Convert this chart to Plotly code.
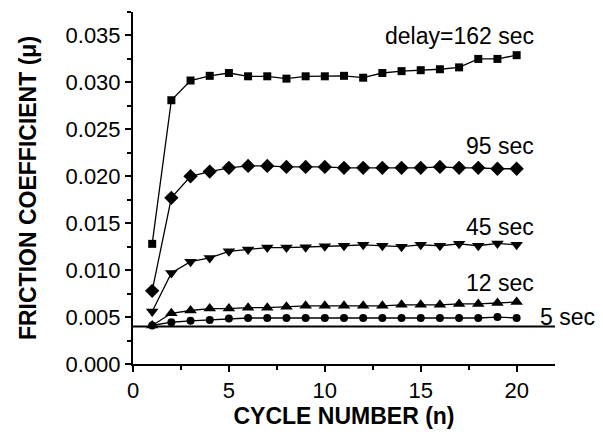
import plotly.graph_objects as go

cycles = list(range(1, 21))
mu_162 = [0.0128, 0.0281, 0.0302, 0.0307, 0.0310, 0.03065, 0.03065, 0.0304, 0.03065, 0.03065,
          0.0307, 0.0305, 0.0310, 0.0312, 0.0313, 0.0314, 0.0316, 0.0325, 0.0325, 0.0329]
mu_95 = [0.0078, 0.0177, 0.0200, 0.0205, 0.0209, 0.0211, 0.0211, 0.0210, 0.0210, 0.0210,
         0.0209, 0.0209, 0.0209, 0.0209, 0.0209, 0.0210, 0.0209, 0.0209, 0.0208, 0.0208]
mu_45 = [0.0056, 0.0097, 0.0109, 0.0113, 0.0120, 0.0122, 0.0124, 0.0124, 0.01245, 0.01255,
         0.0126, 0.0127, 0.0126, 0.0125, 0.0127, 0.0126, 0.0128, 0.0126, 0.01285, 0.0127]
mu_12 = [0.0041, 0.0054, 0.0057, 0.0059, 0.0059, 0.0060, 0.0060, 0.0061, 0.0062, 0.0062,
         0.0062, 0.0062, 0.0062, 0.0063, 0.0063, 0.0063, 0.0064, 0.0064, 0.0065, 0.0066]
mu_5 = [0.0041, 0.00445, 0.0046, 0.0047, 0.00485, 0.0049, 0.0049, 0.0049, 0.0049, 0.0049,
        0.0049, 0.0049, 0.0049, 0.0049, 0.0049, 0.0049, 0.0049, 0.0049, 0.0050, 0.0049]
baseline_x = [0, 22]
baseline_y = [0.004, 0.004]

labels = ["delay=162 sec", "95 sec", "45 sec", "12 sec", "5 sec"]
label_x = [21.0, 21.0, 21.0, 21.0, 21.1]
label_y = [0.0349, 0.0232, 0.0146, 0.0086, 0.0050]
label_anchor = ["right", "right", "right", "right", "left"]

series = [
    (mu_162, "square", 8),
    (mu_95, "diamond", 11),
    (mu_45, "triangle-down", 11),
    (mu_12, "triangle-up", 11),
    (mu_5, "circle", 8),
]

FONT = "Liberation Sans, Arial"

fig = go.Figure()
fig.add_trace(go.Scatter(x=baseline_x, y=baseline_y, mode="lines",
                         line=dict(color="black", width=2), showlegend=False))
for vals, sym, sz in series:
    fig.add_trace(go.Scatter(x=cycles, y=vals, mode="lines+markers",
                             line=dict(color="black", width=1.3),
                             marker=dict(symbol=sym, size=sz, color="black"),
                             showlegend=False, cliponaxis=False))

for t, xx, yy, anc in zip(labels, label_x, label_y, label_anchor):
    fig.add_annotation(x=xx, y=yy, text=t, showarrow=False, xanchor=anc, yanchor="middle",
                       font=dict(family=FONT, size=23, color="black"))

axis_font = dict(family=FONT, size=22, color="black")
title_font = dict(family=FONT, size=23, color="black")
fig.update_layout(
    width=603, height=436,
    margin=dict(l=133, r=48, t=12, b=70),
    paper_bgcolor="white", plot_bgcolor="white",
    xaxis=dict(range=[0, 22], showgrid=False, zeroline=False, showline=True, linecolor="black",
               linewidth=2, ticks="outside", tickwidth=2, ticklen=6, tickcolor="black",
               tickvals=[0, 5, 10, 15, 20], ticktext=["0", "5", "10", "15", "20"],
               tickfont=axis_font,
               minor=dict(tickvals=[2.5, 7.5, 12.5, 17.5], ticks="outside", ticklen=4, tickwidth=2, tickcolor="black"),
               title=dict(text="<b>CYCLE NUMBER (n)</b>", font=title_font, standoff=4)),
    yaxis=dict(range=[0, 0.0375], showgrid=False, zeroline=False, showline=True, linecolor="black",
               linewidth=2, ticks="outside", tickwidth=2, ticklen=6, tickcolor="black",
               tickvals=[0, 0.005, 0.01, 0.015, 0.02, 0.025, 0.03, 0.035],
               ticktext=["0.000", "0.005", "0.010", "0.015", "0.020", "0.025", "0.030", "0.035"],
               tickfont=axis_font,
               minor=dict(tickvals=[0.0025, 0.0075, 0.0125, 0.0175, 0.0225, 0.0275, 0.0325, 0.0375], ticks="outside", ticklen=4, tickwidth=2, tickcolor="black"),
               title=dict(text="<b>FRICTION COEFFICIENT (μ)</b>", font=title_font, standoff=22)),
)

fig.write_html("out.html")
